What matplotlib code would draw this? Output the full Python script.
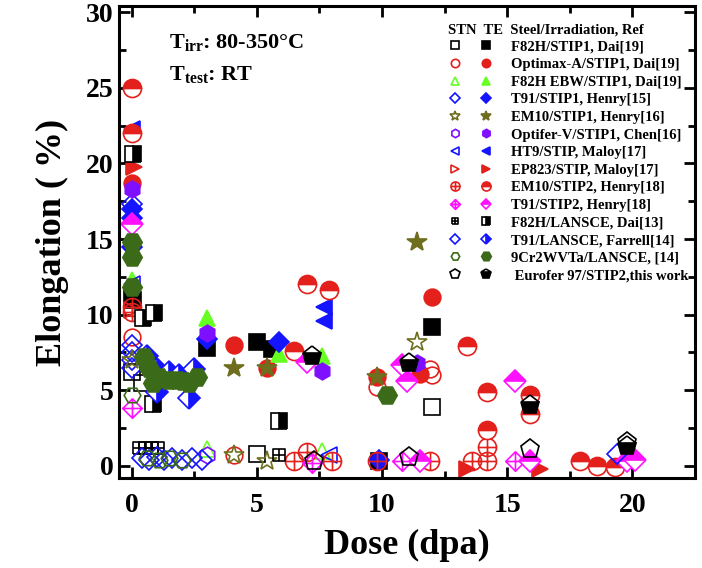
import matplotlib
matplotlib.use("Agg")
import matplotlib.pyplot as plt
from matplotlib.path import Path
from matplotlib.legend_handler import HandlerTuple
from matplotlib.ticker import MultipleLocator

plt.rcParams['font.family'] = 'Liberation Serif'
plt.rcParams['font.weight'] = 'bold'
plt.rcParams['mathtext.fontset'] = 'custom'
plt.rcParams['mathtext.rm'] = 'Liberation Serif:bold'
plt.rcParams['mathtext.it'] = 'Liberation Serif:bold'

# ---- data: dose (dpa), total elongation (%) ----
# F82H/STIP1, Dai[19]
f82h_stn_x = [0.0, 0.0, 0.4, 5.0, 12.0]
f82h_stn_y = [11.3, 6.2, 5.5, 0.8, 3.9]
f82h_te_x = [0.05, 3.0, 5.0, 5.6, 12.0, 9.9]
f82h_te_y = [11.0, 7.8, 8.2, 7.7, 9.2, 0.3]
# Optimax-A/STIP1, Dai[19]
optimax_stn_x = [0.0, 4.1, 9.8, 11.9, 12.0]
optimax_stn_y = [8.5, 0.7, 5.2, 6.4, 6.0]
optimax_te_x = [0.0, 4.1, 5.4, 9.8, 12.0, 11.5]
optimax_te_y = [18.7, 8.0, 6.5, 5.9, 11.2, 6.1]
# F82H EBW/STIP1, Dai[19]
ebw_stn_x = [3.0, 7.6]
ebw_stn_y = [1.1, 1.0]
ebw_te_x = [0.0, 3.0, 5.9, 7.6]
ebw_te_y = [12.3, 9.8, 7.4, 7.3]
# T91/STIP1, Henry[15]
t91a_stn_x = [0.0, 0.0, 0.0, 0.0, 0.0]
t91a_stn_y = [17.3, 8.0, 7.5, 7.0, 6.5]
t91a_te_x = [0.0, 0.0, 0.0, 3.0, 5.9, 9.9]
t91a_te_y = [17.0, 16.4, 14.5, 8.4, 8.2, 0.4]
# EM10/STIP1, Henry[16]
em10a_stn_x = [0.0, 4.1, 5.4, 11.4]
em10a_stn_y = [7.0, 0.7, 0.3, 8.2]
em10a_te_x = [4.1, 5.4, 9.8, 11.4]
em10a_te_y = [6.5, 6.5, 5.9, 14.8]
# Optifer-V/STIP1, Chen[16]
optifer_stn_x = [3.0]
optifer_stn_y = [0.7]
optifer_te_x = [0.0, 3.0, 7.6, 11.4]
optifer_te_y = [18.3, 8.8, 6.3, 6.8]
# HT9/STIP, Maloy[17]
ht9_stn_x = [0.0, 7.9]
ht9_stn_y = [12.0, 0.7]
ht9_te_x = [0.0, 7.7, 7.7]
ht9_te_y = [22.3, 10.5, 9.6]
# EP823/STIP, Maloy[17]
ep823_stn_x = [0.0]
ep823_stn_y = [10.3]
ep823_te_x = [0.1, 13.4, 16.3]
ep823_te_y = [19.8, -0.2, -0.2]
# EM10/STIP2, Henry[18]
em10b_stn_x = [0.0, 0.0, 6.5, 7.0, 8.0, 11.9, 13.6, 14.2, 14.2, 9.8]
em10b_stn_y = [10.5, 10.2, 0.3, 0.9, 0.3, 0.3, 0.3, 1.25, 0.3, 0.3]
em10b_te_x = [0.0, 0.0, 7.0, 7.9, 6.5, 13.4, 14.2, 14.2, 15.9, 15.9, 17.9, 18.6, 19.3]
em10b_te_y = [25.0, 22.0, 12.0, 11.6, 7.6, 7.9, 4.9, 2.4, 4.7, 3.4, 0.3, 0.0, -0.1]
# T91/STIP2, Henry[18]
t91b_stn_x = [0.0, 7.2, 10.8, 15.3]
t91b_stn_y = [3.8, 0.2, 0.3, 0.3]
t91b_te_x = [0.0, 7.0, 10.8, 11.0, 15.3, 15.9, 11.5, 19.8, 20.1]
t91b_te_y = [16.0, 6.9, 6.7, 5.6, 5.6, 0.3, 0.3, 0.3, 0.4]
# F82H/LANSCE, Dai[13]
f82hl_stn_x = [0.3, 0.55, 0.8, 1.05, 5.9]
f82hl_stn_y = [1.2, 1.2, 1.2, 1.2, 0.7]
f82hl_te_x = [0.05, 0.45, 0.9, 0.85, 5.9]
f82hl_te_y = [20.6, 9.8, 10.1, 4.1, 3.0]
# T91/LANSCE, Farrell[14]
t91l_stn_x = [0.4, 0.7, 1.0, 1.3, 1.6, 2.0, 2.4, 2.8, 19.4]
t91l_stn_y = [0.5, 0.4, 0.6, 0.4, 0.5, 0.4, 0.5, 0.4, 0.8]
t91l_te_x = [0.6, 1.0, 1.5, 1.9, 2.5, 2.3, 1.0]
t91l_te_y = [7.3, 6.4, 6.2, 6.0, 6.4, 4.5, 4.9]
# 9Cr2WVTa/LANSCE, [14]
cr9_stn_x = [0.0, 0.6, 1.1, 1.5, 2.0]
cr9_stn_y = [4.7, 0.5, 0.4, 0.5, 0.4]
cr9_te_x = [0.0, 0.0, 0.0, 0.5, 0.7, 0.85, 1.1, 1.45, 1.8, 2.05, 2.3, 2.6, 10.2]
cr9_te_y = [14.8, 13.8, 11.8, 7.2, 6.5, 5.5, 5.9, 5.7, 5.7, 5.6, 5.5, 5.9, 4.7]
# Eurofer 97/STIP2, this work
eurofer_stn_x = [7.3, 11.1, 15.9, 19.8]
eurofer_stn_y = [0.3, 0.6, 1.1, 1.6]
eurofer_te_x = [7.2, 11.1, 15.9, 19.8]
eurofer_te_y = [7.3, 6.8, 4.0, 1.3]

labels = ['F82H/STIP1, Dai[19]', 'Optimax-A/STIP1, Dai[19]', 'F82H EBW/STIP1, Dai[19]',
          'T91/STIP1, Henry[15]', 'EM10/STIP1, Henry[16]', 'Optifer-V/STIP1, Chen[16]',
          'HT9/STIP, Maloy[17]', 'EP823/STIP, Maloy[17]', 'EM10/STIP2, Henry[18]',
          'T91/STIP2, Henry[18]', 'F82H/LANSCE, Dai[13]', 'T91/LANSCE, Farrell[14]',
          '9Cr2WVTa/LANSCE, [14]', ' Eurofer 97/STIP2,this work']

# marker shapes with inner crosses
plus = Path([[-1, 0], [1, 0], [0, -1], [0, 1]],
            [Path.MOVETO, Path.LINETO, Path.MOVETO, Path.LINETO])
circ_plus = Path.make_compound_path(Path.unit_circle(), plus)
diam = Path([[0, 1], [1, 0], [0, -1], [-1, 0], [0, 1]])
diam_plus = Path.make_compound_path(diam, plus)
sq = Path([[-1, -1], [1, -1], [1, 1], [-1, 1], [-1, -1]])
sq_grid = Path.make_compound_path(sq, plus)

black = '#000000'
red = '#e3201c'
lime = '#66ff22'
blue = '#1414ff'
olive = '#6e6e1e'
purple = '#7f10ff'
magenta = '#ff10ff'
dgreen = '#3b6a18'

fig = plt.figure(figsize=(7.02, 5.68), dpi=100)
ax = fig.add_axes([0.1695, 0.1585, 0.8205, 0.8305])

MS = 12


def stn(x, y, m, c, ms=MS):
    return ax.plot(x, y, ls='none', marker=m, ms=ms, mfc='none', mec=c, mew=1.2)[0]


def te(x, y, m, c, ms=MS, fill='full'):
    return ax.plot(x, y, ls='none', marker=m, ms=ms, mfc=c, mec=c, mew=1.2,
                   fillstyle=fill, markerfacecoloralt='white')[0]


pairs = []
pairs.append((stn(f82h_stn_x, f82h_stn_y, 's', black, 11), te(f82h_te_x, f82h_te_y, 's', black, 11)))
pairs.append((stn(optimax_stn_x, optimax_stn_y, 'o', red), te(optimax_te_x, optimax_te_y, 'o', red)))
pairs.append((stn(ebw_stn_x, ebw_stn_y, '^', lime), te(ebw_te_x, ebw_te_y, '^', lime)))
pairs.append((stn(t91a_stn_x, t91a_stn_y, 'D', blue, 10), te(t91a_te_x, t91a_te_y, 'D', blue, 10)))
pairs.append((stn(em10a_stn_x, em10a_stn_y, '*', olive, 15), te(em10a_te_x, em10a_te_y, '*', olive, 15)))
pairs.append((stn(optifer_stn_x, optifer_stn_y, 'h', purple), te(optifer_te_x, optifer_te_y, 'h', purple)))
pairs.append((stn(ht9_stn_x, ht9_stn_y, '<', blue), te(ht9_te_x, ht9_te_y, '<', blue)))
pairs.append((stn(ep823_stn_x, ep823_stn_y, '>', red), te(ep823_te_x, ep823_te_y, '>', red)))
pairs.append((stn(em10b_stn_x, em10b_stn_y, circ_plus, red, 13), te(em10b_te_x, em10b_te_y, 'o', red, 13, 'top')))
pairs.append((stn(t91b_stn_x, t91b_stn_y, diam_plus, magenta, 14), te(t91b_te_x, t91b_te_y, 'D', magenta, 11, 'top')))
pairs.append((stn(f82hl_stn_x, f82hl_stn_y, sq_grid, black, 9), te(f82hl_te_x, f82hl_te_y, 's', black, 11, 'right')))
pairs.append((stn(t91l_stn_x, t91l_stn_y, 'D', blue, 10), te(t91l_te_x, t91l_te_y, 'D', blue, 11, 'right')))
pairs.append((stn(cr9_stn_x, cr9_stn_y, 'H', dgreen), te(cr9_te_x, cr9_te_y, 'H', dgreen, 14)))
pairs.append((stn(eurofer_stn_x, eurofer_stn_y, 'p', black, 14), te(eurofer_te_x, eurofer_te_y, 'p', black, 14, 'bottom')))

ax.set_xlim(-0.5, 22.5)
ax.set_ylim(-0.8, 30.4)
ax.xaxis.set_major_locator(MultipleLocator(5))
ax.xaxis.set_minor_locator(MultipleLocator(2.5))
ax.yaxis.set_major_locator(MultipleLocator(5))
ax.yaxis.set_minor_locator(MultipleLocator(2.5))
ax.tick_params(which='both', direction='in', top=True, right=True, width=2)
ax.tick_params(which='major', length=8, labelsize=20)
ax.tick_params(which='minor', length=5)
ax.tick_params(axis='x', pad=11)
ax.tick_params(axis='y', pad=4)
for s in ax.spines.values():
    s.set_linewidth(2.2)

ax.set_xlabel('Dose (dpa)', fontsize=26, fontweight='bold', labelpad=8)
ax.set_ylabel('Elongation ( %)', fontsize=26, fontweight='bold', labelpad=12)

ax.text(1.5, 28.0, r'T$_{\mathrm{irr}}$: 80-350°C', fontsize=16, va='center')
ax.text(1.5, 25.9, r'T$_{\mathrm{test}}$: RT', fontsize=16, va='center')

leg = ax.legend(pairs, labels, handler_map={tuple: HandlerTuple(ndivide=None, pad=1.2)},
                loc='upper left', bbox_to_anchor=(0.556, 0.983), frameon=False,
                fontsize=10.5, markerscale=0.5, handlelength=3.1, handletextpad=1.25,
                labelspacing=0.3, borderaxespad=0.2,
                title='STN  TE  Steel/Irradiation, Ref', alignment='left')
leg.get_title().set_fontsize(10.5)
leg.get_title().set_fontweight('bold')

fig.savefig('out.png', dpi=100)
